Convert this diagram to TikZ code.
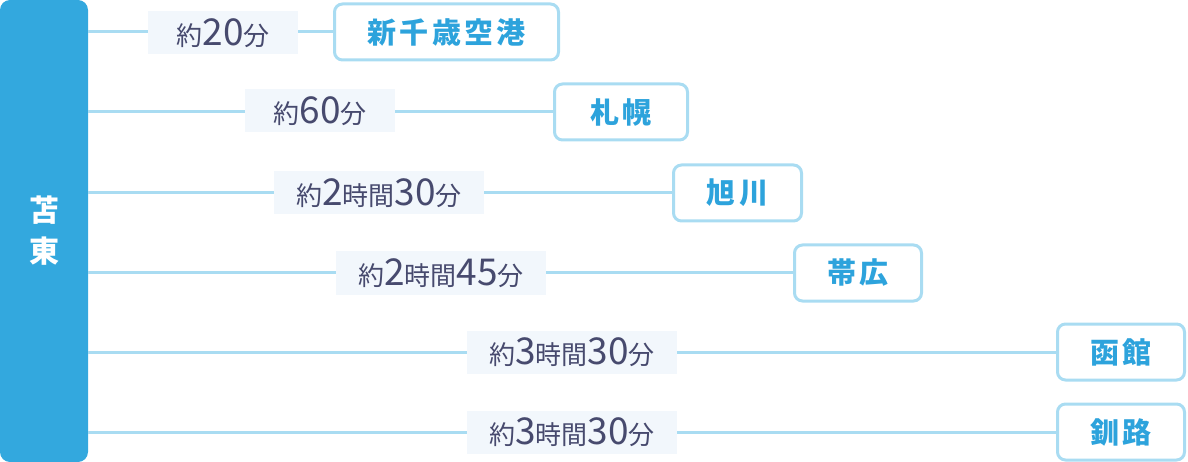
\documentclass[tikz,border=0pt]{standalone}
\usepackage{fontspec}
\setmainfont{Noto Sans CJK JP}
\definecolor{barblue}{HTML}{33A8DE}
\definecolor{destblue}{HTML}{2DA3DC}
\definecolor{linecol}{HTML}{A9DCF2}
\definecolor{labelfill}{HTML}{F2F7FC}
\definecolor{labeltext}{HTML}{474A6E}
\newcommand\numbig[1]{{\fontsize{37}{37}\selectfont #1}}
\begin{document}
\begin{tikzpicture}[x=1pt,y=-1pt,
  barbox/.style={fill=barblue, rounded corners=10pt, minimum width=88pt, minimum height=462pt, inner sep=0pt, text=white, font=\fontsize{30}{41}\selectfont\bfseries, align=center},
  dest/.style={draw=linecol, line width=3pt, rounded corners=8pt, fill=white, text=destblue, font=\fontsize{29}{29}\selectfont\bfseries\addfontfeatures{LetterSpace=12}, minimum height=56pt, inner sep=0pt},
  lbl/.style={fill=labelfill, text=labeltext, minimum height=43pt, inner sep=0pt, font=\fontsize{26}{26}\selectfont},
  conn/.style={draw=linecol, line width=3pt}]
\useasboundingbox (0,0) rectangle (1188,462);
\node[barbox] (bar) at (44,231) {苫\\東};
\node[dest, minimum width=224pt] (d1) at (446.5,32) {新千歳空港};
\node[dest, minimum width=133pt] (d2) at (621,112) {札幌};
\node[dest, minimum width=128pt] (d3) at (737.5,193) {旭川};
\node[dest, minimum width=127pt] (d4) at (858,273) {帯広};
\node[dest, minimum width=127pt] (d5) at (1121,352) {函館};
\node[dest, minimum width=127pt] (d6) at (1121,432) {釧路};
\foreach \i in {1,...,6}{\draw[conn] (bar.east |- d\i.west) -- (d\i.west);}
\node[lbl, minimum width=150pt] (t1) at (223,33) {約\numbig{20}分};
\node[lbl, minimum width=150pt] (t2) at (320,111) {約\numbig{60}分};
\node[lbl, minimum width=210pt] (t3) at (379,193) {約\numbig{2}時間\numbig{30}分};
\node[lbl, minimum width=210pt] (t4) at (441,273) {約\numbig{2}時間\numbig{45}分};
\node[lbl, minimum width=210pt] (t5) at (572,352) {約\numbig{3}時間\numbig{30}分};
\node[lbl, minimum width=210pt] (t6) at (572,432) {約\numbig{3}時間\numbig{30}分};
\end{tikzpicture}
\end{document}
